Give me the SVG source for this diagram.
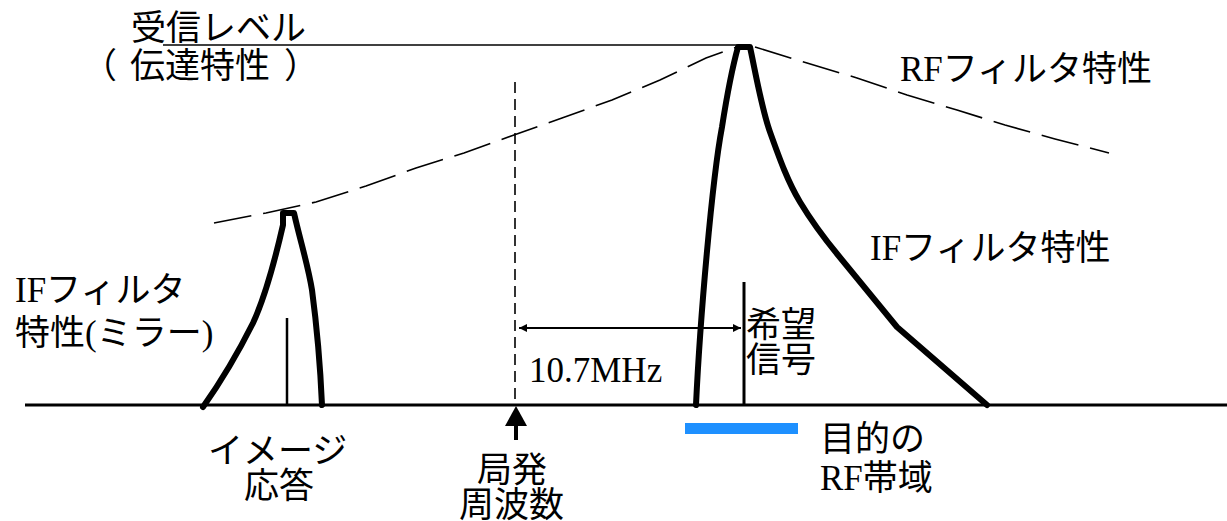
<svg xmlns="http://www.w3.org/2000/svg" width="1227" height="521" viewBox="0 0 1227 521">
<style>
text{font-family:"Liberation Serif","Noto Sans CJK JP",serif;font-size:35px;fill:#000}
.thick{fill:none;stroke:#000;stroke-width:6;stroke-linejoin:round;stroke-linecap:round}
.dash{fill:none;stroke:#000;stroke-width:1.6;stroke-dasharray:38 12}
.thin{fill:none;stroke:#000;stroke-width:2}
</style>
<defs>
<marker id="ah" viewBox="0 0 10 10" refX="10" refY="5" markerWidth="8" markerHeight="8" markerUnits="userSpaceOnUse" orient="auto-start-reverse">
<path d="M0,0 L10,5 L0,10 z" fill="#000"/>
</marker>
</defs>
<rect width="1227" height="521" fill="#fff"/>
<g id="axis">
<line x1="25" y1="405" x2="1227" y2="405" stroke="#000" stroke-width="3"/>
</g>
<g id="rf-curve">
<path class="dash" d="M214,223 L266,213 L316,202 L366,186 L416,168 L464,153 L514,135 L562,118 L612,100 L660,80 L706,58 L740,46"/>
<path class="dash" d="M755,47 L807,63 L857,78 L907,95 L957,110 L1005,125 L1055,139 L1109,153"/>
</g>
<g id="mirror-peak">
<path class="thick" d="M203,407 C215,390 232,365 253,323 C265,297 275,260 283,225 L283,213 L294,213 C300,240 308,265 312,290 C316,320 320,360 322,405"/>
<line x1="287" y1="318" x2="287" y2="405" stroke="#000" stroke-width="2.5"/>
</g>
<g id="main-peak">
<path class="thick" d="M696,405 C700,320 712,180 722,127 C727,95 733,65 738,47 L750,47 C756,75 762,110 770,132 C780,160 788,182 800,202 C812,222 824,238 838,255 L897,327 L987,405"/>
<line x1="744" y1="282" x2="744" y2="405" stroke="#000" stroke-width="3"/>
</g>
<g id="connectors">
<line x1="163" y1="45" x2="742" y2="45" stroke="#000" stroke-width="1.6"/>
<line x1="515" y1="82" x2="515" y2="405" stroke="#000" stroke-width="1.6" stroke-dasharray="11 6"/>
<line x1="519" y1="328" x2="741" y2="328" stroke="#000" stroke-width="2" marker-start="url(#ah)" marker-end="url(#ah)"/>
<line x1="516" y1="440" x2="516" y2="424" stroke="#000" stroke-width="4"/>
<path d="M516,406 L527,426 L505,426 z" fill="#000"/>
<rect x="685" y="423" width="113" height="11" fill="#1e90ff"/>
</g>
<g id="labels">
<text x="131" y="40">受信レベル</text>
<text x="82 130 165 200 235 284" y="78">（伝達特性）</text>
<text x="900" y="81">RFフィルタ特性</text>
<text x="870" y="260">IFフィルタ特性</text>
<text x="15" y="302">IFフィルタ</text>
<text x="15" y="345">特性(ミラー)</text>
<text x="529" y="382">10.7MHz</text>
<text x="746" y="337">希望</text>
<text x="746" y="372">信号</text>
<text x="208" y="463">イメージ</text>
<text x="244" y="498">応答</text>
<text x="477" y="482">局発</text>
<text x="459" y="517">周波数</text>
<text x="820" y="451">目的の</text>
<text x="820" y="490">RF帯域</text>
</g>
</svg>
